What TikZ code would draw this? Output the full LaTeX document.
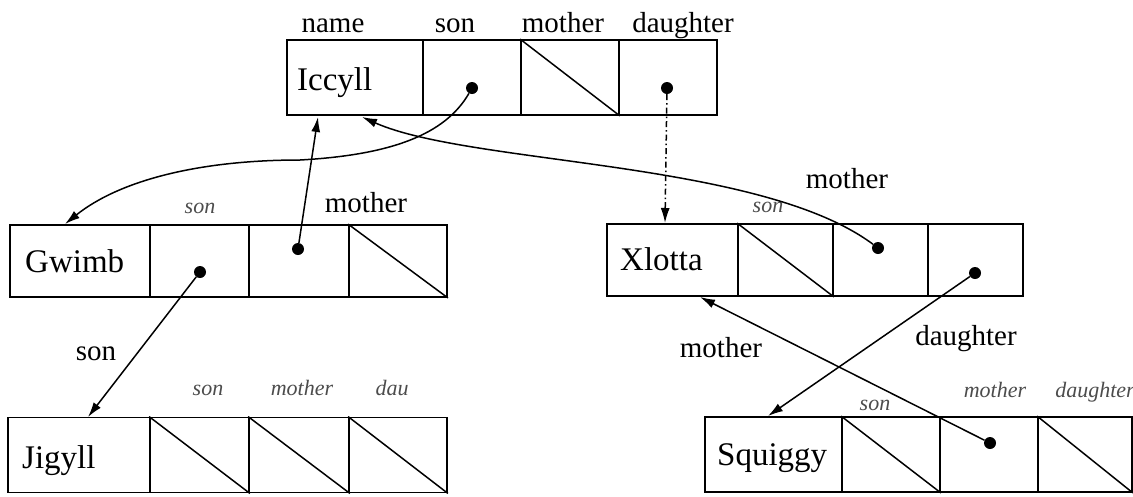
\documentclass[tikz,border=0pt]{standalone}
\usepackage{fontspec}
\setmainfont{Liberation Serif}
\usetikzlibrary{arrows.meta}
\begin{document}
\begin{tikzpicture}[x=1pt,y=-1pt,
  cell/.style={draw,line width=1.8pt,inner sep=0pt,minimum width=#1},
  rowA/.style={minimum height=75pt},
  rowB/.style={minimum height=72pt},
  diag/.style={line width=1.5pt},
  dot/.style={circle,fill=black,inner sep=0pt,minimum size=12pt},
  conn/.style={line width=1.5pt,-{Latex[length=15pt,width=9pt]}},
  dconn/.style={conn,dash pattern=on 6pt off 3pt on 1.5pt off 3pt},
  recname/.style={anchor=base west,inner sep=0pt,font=\fontsize{33}{33}\selectfont},
  lab/.style={anchor=base,inner sep=0pt,font=\fontsize{29}{29}\selectfont},
  faint/.style={anchor=base,inner sep=0pt,text=black!70,font=\fontsize{22}{22}\selectfont\itshape}]
\useasboundingbox (0,0) rectangle (1133,496);

% ---- Iccyll record
\node[cell=136pt,rowA] (ic0) at (355,77.5) {};
\node[cell=98pt,rowA] (ic1) at (472,77.5) {};
\node[cell=98pt,rowA] (ic2) at (570,77.5) {};
\node[cell=98pt,rowA] (ic3) at (668,77.5) {};
\draw[diag] (ic2.north west) -- (ic2.south east);
\node[recname] (icn) at (297,90) {Iccyll};
\node[lab] (icl0) at (333,32) {name};
\node[lab] (icl1) at (455,32) {son};
\node[lab] (icl2) at (563,32) {mother};
\node[lab] (icl3) at (683,32) {daughter};
\node[dot] (icS) at (472,88) {};
\node[dot] (icD) at (667,88) {};

% ---- Gwimb record
\node[cell=140pt,rowB] (gw0) at (80,261) {};
\node[cell=99pt,rowB] (gw1) at (199.5,261) {};
\node[cell=100pt,rowB] (gw2) at (299,261) {};
\node[cell=98pt,rowB] (gw3) at (398,261) {};
\draw[diag] (gw3.north west) -- (gw3.south east);
\node[recname] (gwn) at (25,272) {Gwimb};
\node[faint] (gwl1) at (200,213) {son};
\node[lab] (gwl2) at (366,212) {mother};
\node[dot] (gwS) at (200,272) {};
\node[dot] (gwM) at (298,249) {};

% ---- Xlotta record
\node[cell=131pt,rowB] (xl0) at (672.5,260) {};
\node[cell=95pt,rowB] (xl1) at (785.5,260) {};
\node[cell=95pt,rowB] (xl2) at (880.5,260) {};
\node[cell=95pt,rowB] (xl3) at (975.5,260) {};
\draw[diag] (xl1.north west) -- (xl1.south east);
\node[recname] (xln) at (620,270) {Xlotta};
\node[faint] (xll1) at (768,212) {son};
\node[dot] (xlM) at (878,248) {};
\node[dot] (xlD) at (975,273) {};

% ---- Jigyll record
\node[cell=142pt,rowA] (jg0) at (79,455) {};
\node[cell=99pt,rowA] (jg1) at (199.5,455) {};
\node[cell=100pt,rowA] (jg2) at (299,455) {};
\node[cell=98pt,rowA] (jg3) at (398,455) {};
\draw[diag] (jg1.north west) -- (jg1.south east);
\draw[diag] (jg2.north west) -- (jg2.south east);
\draw[diag] (jg3.north west) -- (jg3.south east);
\node[recname] (jgn) at (22,468) {Jigyll};
\node[faint] (jgl1) at (208,395) {son};
\node[faint] (jgl2) at (302,395) {mother};
\node[faint] (jgl3) at (392,395) {dau};

% ---- Squiggy record
\node[cell=137pt,rowA] (sq0) at (773.5,454.5) {};
\node[cell=98pt,rowA] (sq1) at (891,454.5) {};
\node[cell=98pt,rowA] (sq2) at (989,454.5) {};
\node[cell=94pt,rowA] (sq3) at (1085,454.5) {};
\draw[diag] (sq1.north west) -- (sq1.south east);
\draw[diag] (sq3.north west) -- (sq3.south east);
\node[recname] (sqn) at (717,465) {Squiggy};
\node[faint] (sql1) at (875,410) {son};
\node[faint] (sql2) at (995,397) {mother};
\node[faint] (sql3) at (1095,397) {daughter};
\node[dot] (sqM) at (990,443) {};

% ---- connector end points
\coordinate (gwin) at (65,224);
\coordinate (bend1) at (300,160);
\coordinate (icinA) at (318,117);
\coordinate (icinB) at (362,117);
\coordinate (xlinT) at (665,223);
\coordinate (jgin) at (88,417);
\coordinate (sqin) at (768,416);
\coordinate (xlinB) at (700,297);

% ---- connectors
\draw[conn] (icS) .. controls (445,135) and (390,155) .. (bend1)
  .. controls (200,160) and (120,180) .. (gwin);
\draw[conn] (gwM) -- (icinA);
\draw[conn] (xlM) .. controls (760,160) and (470,165) .. (icinB);
\draw[dconn] (icD) -- (xlinT);
\draw[conn] (gwS) -- (jgin);
\draw[conn] (xlD) -- (sqin);
\draw[conn] (sqM) -- (xlinB);

% ---- connector labels
\node[lab] (lmo1) at (847,188) {mother};
\node[lab] (lson) at (96,360) {son};
\node[lab] (lmo2) at (721,357) {mother};
\node[lab] (ldau) at (966,345) {daughter};
\end{tikzpicture}
\end{document}
